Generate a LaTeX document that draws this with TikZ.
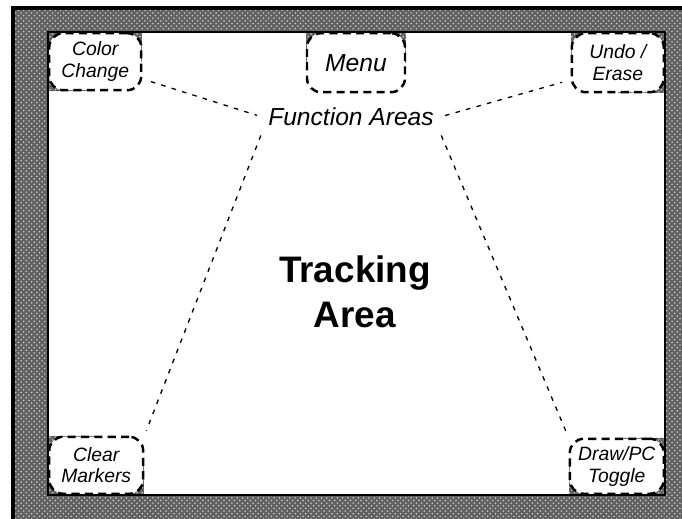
\documentclass[tikz,border=0pt]{standalone}
\usepackage{fontspec}
\setmainfont{Liberation Sans}
\usetikzlibrary{backgrounds,patterns}

\begin{document}
\begin{tikzpicture}[x=0.02cm,y=-0.02cm,
  fnbox/.style={draw, fill=white, line width=1.4pt, dash pattern=on 4.6pt off 3pt,
    rounded corners=8pt, align=center, inner sep=0pt,
    font=\itshape\fontsize{11}{12.3}\selectfont},
  link/.style={line width=0.75pt, dash pattern=on 2.6pt off 3.6pt},
  framefill/.style={fill=black!62, postaction={pattern=crosshatch dots, pattern color=black!20}}]

  \useasboundingbox (0,0) rectangle (682,519);

  % Function boxes
  \node[fnbox, anchor=north west, minimum width=1.84cm, minimum height=1.14cm] (color) at (48,32) {Color\\Change};
  \node[fnbox, anchor=north, minimum width=1.96cm, minimum height=1.18cm,
    font=\itshape\fontsize{14}{16}\selectfont] (menu) at (356,32) {Menu};
  \node[fnbox, anchor=north east, minimum width=1.84cm, minimum height=1.18cm] (undo) at (665,32) {Undo /\\Erase};
  \node[fnbox, anchor=south west, minimum width=1.88cm, minimum height=1.14cm] (clear) at (48,495) {Clear\\Markers};
  \node[fnbox, anchor=south east, minimum width=1.88cm, minimum height=1.10cm] (toggle) at (665,495) {Draw/PC\\Toggle};

  % Labels
  \node[font=\itshape\fontsize{14}{16}\selectfont] (func) at (351,117) {Function Areas};
  \node[align=center, font=\bfseries\fontsize{21}{25.6}\selectfont] (track) at (355,292) {Tracking\\Area};

  % Dashed connectors
  \draw[link, shorten <=5pt, shorten >=3pt] (color.-20) -- (func.west);
  \draw[link, shorten <=3pt, shorten >=5pt] (func.east) -- (undo.200);
  \draw[link, shorten <=2pt, shorten >=3pt] (func.south west) -- (clear.north east);
  \draw[link, shorten <=2pt, shorten >=3pt] (func.south east) -- (toggle.north west);

  % Frame, behind the boxes
  \begin{scope}[on background layer]
    \path[framefill] (13,8) rectangle (682,519);
    \fill[white] (48,32) rectangle (665,495);
    % frame fills the corners of the boxes that touch it
    \path[framefill] (color.north west) rectangle (color.east);
    \path[framefill] (color.north west) rectangle (color.south);
    \path[framefill] (menu.north west) rectangle (menu.east);
    \path[framefill] (undo.north west) rectangle (undo.east);
    \path[framefill] (undo.north) rectangle (undo.south east);
    \path[framefill] (clear.west) rectangle (clear.south east);
    \path[framefill] (clear.north west) rectangle (clear.south);
    \path[framefill] (toggle.west) rectangle (toggle.south east);
    \path[framefill] (toggle.north) rectangle (toggle.south east);
    \draw[line width=1.2pt] (48,32) rectangle (665,495);
    \draw[line width=1.8pt] (13,519) -- (13,8) -- (682,8);
  \end{scope}
\end{tikzpicture}
\end{document}
